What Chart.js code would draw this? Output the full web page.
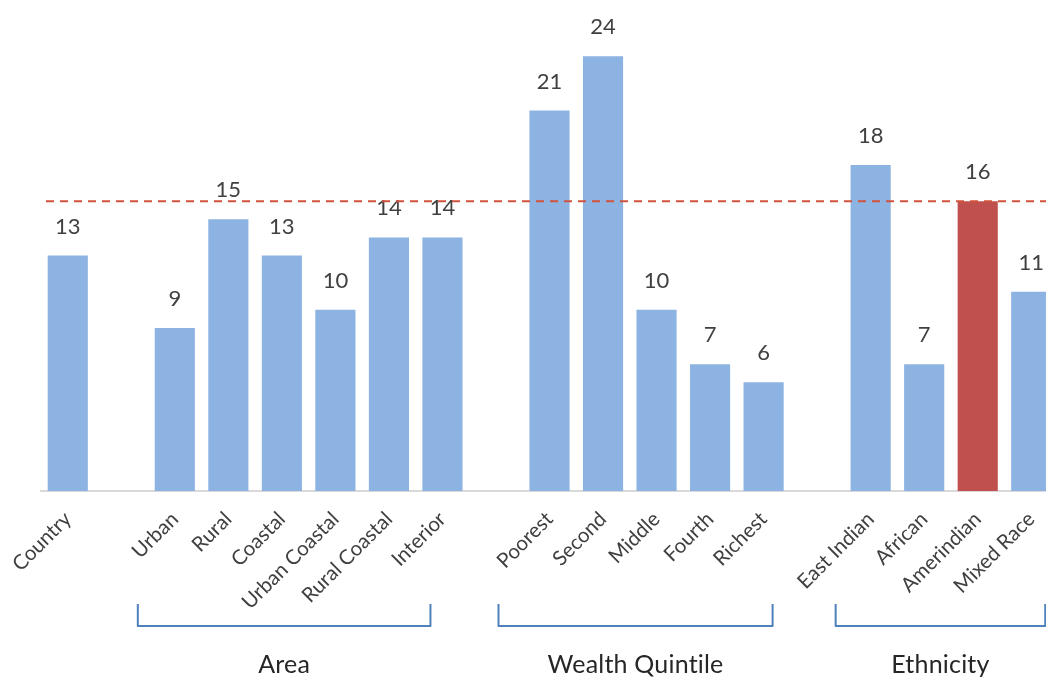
<!DOCTYPE html>
<html>
<head>
<meta charset="utf-8">
<script src="https://cdn.jsdelivr.net/npm/chart.js@4/dist/chart.umd.min.js"></script>
<style>
  html, body { margin: 0; padding: 0; background: #ffffff; overflow: hidden; }
  #wrap { position: relative; width: 1058px; height: 681px; }
</style>
</head>
<body>
<div id="wrap"><canvas id="chart" width="1058" height="681"></canvas></div>
<script>
// Categories along the axis; empty strings leave a gap between groups
const categories = ['Country', '', 'Urban', 'Rural', 'Coastal', 'Urban Coastal', 'Rural Coastal', 'Interior', '',
  'Poorest', 'Second', 'Middle', 'Fourth', 'Richest', '', 'East Indian', 'African', 'Amerindian', 'Mixed Race'];
const values = [13, null, 9, 15, 13, 10, 14, 14, null, 21, 24, 10, 7, 6, null, 18, 7, 16, 11];
const highlighted = ['Amerindian'];
const referenceValue = 16;

// Group brackets under the axis
const groupNames = ['Area', 'Wealth Quintile', 'Ethnicity'];
const groupFirst = ['Urban', 'Poorest', 'East Indian'];
const groupLast = ['Interior', 'Richest', 'Mixed Race'];

// Drawing styles
const BLUE = '#8db3e2';
const RED = '#c0504d';
const TEXT = '#404040';
const FONT = 'Lato, "Open Sans", sans-serif';
const bracketPad = [[-37, -12], [-51, 9], [-35, 14]];

const valueLabels = {
  id: 'valueLabels',
  afterDatasetsDraw(chart) {
    const ctx = chart.ctx;
    const meta = chart.getDatasetMeta(0);
    ctx.save();
    ctx.fillStyle = TEXT;
    ctx.font = '22px ' + FONT;
    ctx.textAlign = 'center';
    ctx.textBaseline = 'middle';
    meta.data.forEach((bar, i) => {
      const v = values[i];
      if (v === null) return;
      ctx.fillText(String(v), bar.x, bar.y - 29);
    });
    ctx.restore();
  }
};

const referenceLine = {
  id: 'referenceLine',
  afterDatasetsDraw(chart) {
    const ctx = chart.ctx;
    const y = chart.scales.y.getPixelForValue(referenceValue);
    ctx.save();
    ctx.strokeStyle = '#d2533c';
    ctx.lineWidth = 2;
    ctx.setLineDash([8, 6]);
    ctx.beginPath();
    ctx.moveTo(chart.chartArea.left + 5, y);
    ctx.lineTo(chart.width, y);
    ctx.stroke();
    ctx.restore();
  }
};

const groupBrackets = {
  id: 'groupBrackets',
  afterDraw(chart) {
    const ctx = chart.ctx;
    const x = chart.scales.x;
    const top = 604, bottom = 626;
    ctx.save();
    ctx.strokeStyle = '#4f81bd';
    ctx.lineWidth = 2;
    ctx.lineJoin = 'round';
    groupNames.forEach((name, g) => {
      const x0 = x.getPixelForValue(categories.indexOf(groupFirst[g])) + bracketPad[g][0];
      const x1 = x.getPixelForValue(categories.indexOf(groupLast[g])) + bracketPad[g][1];
      ctx.beginPath();
      ctx.moveTo(x0, top);
      ctx.lineTo(x0, bottom);
      ctx.lineTo(x1, bottom);
      ctx.lineTo(x1, top);
      ctx.stroke();
      ctx.fillStyle = '#262626';
      ctx.font = '25px ' + FONT;
      if ('letterSpacing' in ctx) ctx.letterSpacing = '0.2px';
      ctx.textAlign = 'center';
      ctx.textBaseline = 'middle';
      ctx.fillText(name, (x0 + x1) / 2, 665);
    });
    ctx.restore();
  }
};

new Chart(document.getElementById('chart'), {
  type: 'bar',
  data: {
    labels: categories,
    datasets: [{
      data: values,
      backgroundColor: categories.map(c => highlighted.includes(c) ? RED : BLUE),
      borderWidth: 0,
      categoryPercentage: 1,
      barPercentage: 0.75
    }]
  },
  options: {
    responsive: false,
    animation: false,
    devicePixelRatio: 1,
    layout: { padding: { left: 41, top: 20, right: 0, bottom: 0 } },
    plugins: { legend: { display: false }, tooltip: { enabled: false } },
    scales: {
      x: {
        grid: { display: false },
        border: { display: true, color: '#d9d9d9', width: 2 },
        ticks: {
          autoSkip: false,
          maxRotation: 45,
          minRotation: 45,
          padding: 8,
          color: TEXT,
          font: { family: FONT, size: 20.5 }
        },
        afterFit(scale) { scale.height = 190; }
      },
      y: {
        display: false,
        min: 0,
        max: 26
      }
    }
  },
  plugins: [valueLabels, referenceLine, groupBrackets]
});
</script>
</body>
</html>
